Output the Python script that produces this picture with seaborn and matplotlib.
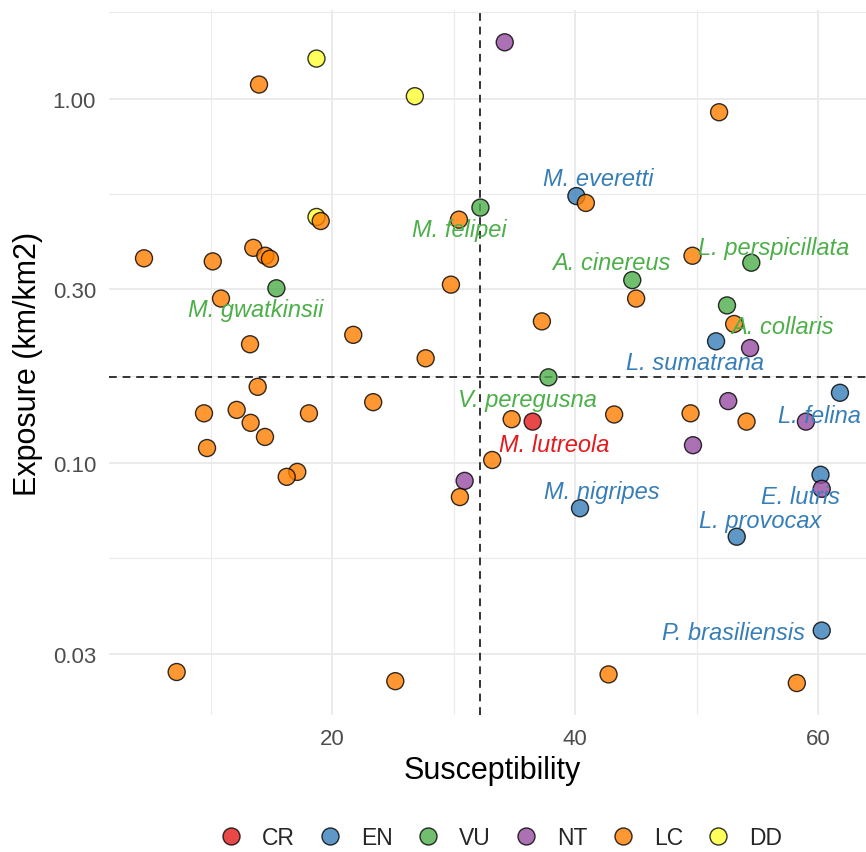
import numpy as np
import pandas as pd
import matplotlib
matplotlib.use("Agg")
import matplotlib.pyplot as plt
from matplotlib.ticker import FixedLocator, FixedFormatter, NullFormatter
import seaborn as sns

# IUCN status categories and their colours (Set1)
statuses = ["CR", "EN", "VU", "NT", "LC", "DD"]
status_colors = ["#E41A1C", "#377EB8", "#4DAF4A", "#984EA3", "#FF7F00", "#FFFF33"]

cr_species = ["M. lutreola"]
cr_suscept = [36.5]
cr_exposure = [0.130]

en_species = ["M. everetti", "L. sumatrana", "L. felina", "M. nigripes",
              "L. provocax", "E. lutris", "P. brasiliensis"]
en_suscept = [40.1, 51.6, 61.8, 40.4, 53.3, 60.2, 60.3]
en_exposure = [0.541, 0.216, 0.156, 0.0752, 0.0628, 0.0929, 0.0347]

vu_species = ["M. felipei", "M. gwatkinsii", "A. cinereus", "L. perspicillata",
              "A. collaris", "V. peregusna"]
vu_suscept = [32.2, 15.4, 44.7, 54.5, 52.5, 37.8]
vu_exposure = [0.503, 0.302, 0.318, 0.355, 0.271, 0.172]

nt_suscept = [34.2, 54.4, 52.6, 59.0, 49.7, 60.3, 30.9]
nt_exposure = [1.43, 0.207, 0.148, 0.130, 0.112, 0.085, 0.0894]

dd_suscept = [18.7, 26.8, 18.7]
dd_exposure = [1.29, 1.017, 0.474]

lc_suscept = [13.97, 51.85, 40.88, 30.43, 19.05, 4.50, 10.16, 13.50, 14.49, 14.87,
              29.77, 10.84, 21.73, 13.23, 27.69, 13.86, 23.37, 9.44, 12.13, 13.28,
              14.46, 9.69, 18.08, 17.12, 16.25, 30.51, 33.17, 7.19, 25.19, 34.77,
              43.21, 49.50, 54.11, 42.75, 58.25, 49.66, 45.02, 37.26, 53.09]
lc_exposure = [1.095, 0.919, 0.518, 0.466, 0.462, 0.365, 0.358, 0.390, 0.371, 0.364,
               0.309, 0.283, 0.225, 0.212, 0.194, 0.162, 0.147, 0.137, 0.140, 0.129,
               0.118, 0.110, 0.137, 0.0946, 0.0917, 0.0807, 0.102, 0.0267, 0.0252, 0.132,
               0.136, 0.137, 0.130, 0.0263, 0.0249, 0.371, 0.283, 0.245, 0.241]

# thresholds (dashed lines)
suscept_cut = 32.2
exposure_cut = 0.172

# label offsets in pixels from the point (dx right, dy down)
label_offsets = {
    "M. everetti": (22, -11), "M. felipei": (-21, 28), "L. perspicillata": (22, -9),
    "A. cinereus": (-21, -11), "M. gwatkinsii": (-21, 28), "A. collaris": (55, 28),
    "L. sumatrana": (-21, 28), "V. peregusna": (-21, 29), "L. felina": (-21, 29),
    "M. lutreola": (22, 29), "M. nigripes": (22, -10), "E. lutris": (-20, 28),
    "L. provocax": (23, -10), "P. brasiliensis": (-88, 8),
}

frames = [
    pd.DataFrame({"species": "", "susceptibility": dd_suscept, "exposure": dd_exposure, "status": "DD"}),
    pd.DataFrame({"species": en_species, "susceptibility": en_suscept, "exposure": en_exposure, "status": "EN"}),
    pd.DataFrame({"species": vu_species, "susceptibility": vu_suscept, "exposure": vu_exposure, "status": "VU"}),
    pd.DataFrame({"species": cr_species, "susceptibility": cr_suscept, "exposure": cr_exposure, "status": "CR"}),
    pd.DataFrame({"species": "", "susceptibility": nt_suscept, "exposure": nt_exposure, "status": "NT"}),
    pd.DataFrame({"species": "", "susceptibility": lc_suscept, "exposure": lc_exposure, "status": "LC"}),
]
df = pd.concat(frames, ignore_index=True)
palette = dict(zip(statuses, status_colors))

sns.set_theme(style="white")
plt.rcParams["font.family"] = ["Liberation Sans", "DejaVu Sans"]

fig = plt.figure(figsize=(8.66, 8.53), dpi=100)
ax = fig.add_axes([0.1261, 0.1605, 0.884, 0.8263])

sns.scatterplot(data=df, x="susceptibility", y="exposure", hue="status",
                hue_order=statuses, palette=palette, s=150, alpha=0.8,
                edgecolor="black", linewidth=1, ax=ax, zorder=3)
ax.set_yscale("log")

# ggplot-like 5% expansion
xmin, xmax = df.susceptibility.min(), df.susceptibility.max()
xpad = (xmax - xmin) * 0.05
ax.set_xlim(xmin - xpad, xmax + xpad)
lmin, lmax = np.log10(df.exposure.min()), np.log10(df.exposure.max())
lpad = (lmax - lmin) * 0.05
ax.set_ylim(10 ** (lmin - lpad), 10 ** (lmax + lpad))

ax.axvline(suscept_cut, color="#333333", ls=(0, (4, 3)), lw=1.4, zorder=2)
ax.axhline(exposure_cut, color="#333333", ls=(0, (4, 3)), lw=1.4, zorder=2)

ytick_vals = [0.03, 0.1, 0.3, 1.0]
ax.yaxis.set_major_locator(FixedLocator(ytick_vals))
ax.yaxis.set_major_formatter(FixedFormatter(["0.03", "0.10", "0.30", "1.00"]))
ax.yaxis.set_minor_locator(FixedLocator([np.sqrt(0.01 * 0.03), np.sqrt(0.03 * 0.1),
                                         np.sqrt(0.1 * 0.3), np.sqrt(0.3 * 1), np.sqrt(1 * 3)]))
ax.yaxis.set_minor_formatter(NullFormatter())
ax.xaxis.set_major_locator(FixedLocator([20, 40, 60]))
ax.xaxis.set_minor_locator(FixedLocator([0, 10, 30, 50, 70]))

ax.grid(which="major", color="#EBEBEB", lw=1.4)
ax.grid(which="minor", color="#EBEBEB", lw=0.8)
ax.set_axisbelow(True)
for sp in ax.spines.values():
    sp.set_visible(False)
ax.tick_params(which="both", length=0, labelsize=16, labelcolor="#4D4D4D", pad=9.5)

for name, (dx, dy) in label_offsets.items():
    row = df[df.species == name].iloc[0]
    ax.annotate(name, (row.susceptibility, row.exposure), xytext=(dx, -dy),
                textcoords="offset pixels", ha="center", va="baseline",
                color=palette[row.status], fontsize=17, fontstyle="italic", zorder=4)

ax.set_xlabel("Susceptibility", fontsize=22, color="black")
ax.set_ylabel("Exposure (km/km2)", fontsize=22, color="black")
ax.xaxis.set_label_coords(0.5, -0.057)
ax.yaxis.set_label_coords(-0.086, 0.5)

sns.move_legend(ax, "center", bbox_to_anchor=(0.513, -0.173), ncol=6, frameon=False,
                title=None, fontsize=16.5, handlelength=0.8, handletextpad=0.95,
                columnspacing=1.14, borderpad=0.2)

fig.savefig("out.png", dpi=100)
